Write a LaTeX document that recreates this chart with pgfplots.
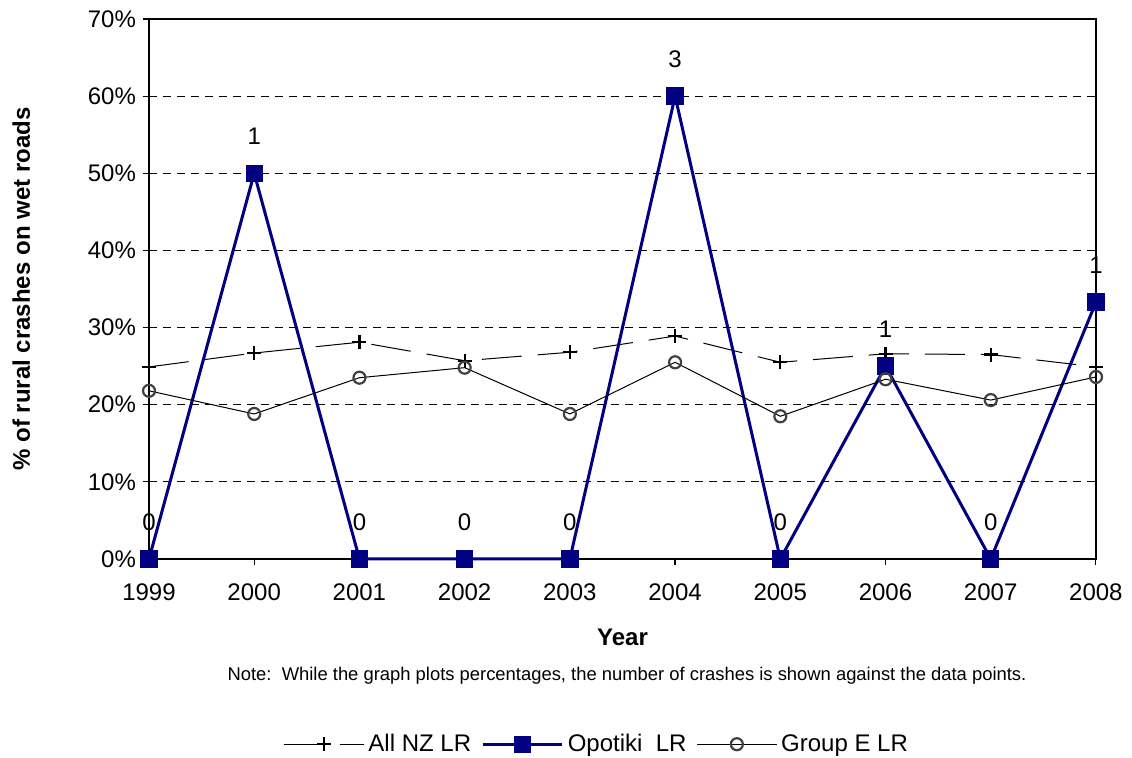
\documentclass[border=0pt]{standalone}
\usepackage{fontspec}
\setmainfont{Liberation Sans}
\usepackage{pgfplots}
\pgfplotsset{compat=1.18}
\definecolor{navy}{RGB}{0,0,128}
\definecolor{circgray}{RGB}{64,64,64}
\begin{document}
\begin{tikzpicture}
\useasboundingbox (-74.5pt,-99.5pt) rectangle (491.5pt,279.5pt);
\begin{axis}[
  name=main,
  at={(0,0)}, anchor=south west,
  scale only axis,
  width=473.5pt, height=270pt,
  xmin=1999, xmax=2008, ymin=0, ymax=70,
  xtick={1999,...,2008},
  ytick={0,10,...,70},
  /pgf/number format/assume math mode=true,
  xticklabel style={/pgf/number format/1000 sep={}, font=\fontsize{12}{14}\selectfont, yshift=-6pt},
  yticklabel={\pgfmathprintnumber{\tick}\%},
  yticklabel style={font=\fontsize{12}{14}\selectfont},
  tick align=outside, tick pos=left,
  major tick length=3pt,
  ymajorgrids,
  grid style={black, dash pattern=on 4pt off 3pt, line width=0.5pt},
  axis line style={line width=0.7pt},
  tick style={black, line width=0.6pt},
  xlabel={\textbf{Year}},
  xlabel style={font=\fontsize{12}{14}\selectfont, yshift=-7pt},
  ylabel={\textbf{\% of rural crashes on wet roads}},
  ylabel style={font=\fontsize{12}{14}\selectfont, yshift=22pt},
  legend style={at={(0.474,-0.343)}, anchor=center, draw=none, font=\fontsize{12}{14}\selectfont, legend columns=-1, /tikz/every even column/.append style={column sep=3pt}},
  legend image code/.code={
    \draw[mark repeat=2,mark phase=2] plot coordinates {(0cm,0cm) (0.7cm,0cm) (1.4cm,0cm)};
  },
  clip=false,
]
\addplot[black, line width=0.5pt, dash pattern=on 20pt off 8pt, mark=+, mark size=3.5pt, mark options={solid, line width=1.1pt}]
 coordinates {(1999,24.9) (2000,26.7) (2001,28.1) (2002,25.7) (2003,26.8) (2004,28.9) (2005,25.5) (2006,26.6) (2007,26.5) (2008,24.9)};
\addlegendentry{All NZ LR}
\addplot[navy, line width=1.5pt, mark=square*, mark size=3.6pt, mark options={solid, fill=navy},
  nodes near coords, point meta=explicit symbolic,
  every node near coord/.style={anchor=center, yshift=18.5pt, black, font=\fontsize{12}{14}\selectfont}]
 coordinates {(1999,0)[0] (2000,50)[1] (2001,0)[0] (2002,0)[0] (2003,0)[0] (2004,60)[3] (2005,0)[0] (2006,25)[1] (2007,0)[0] (2008,33.3)[1]};
\addlegendentry{Opotiki\ \ LR}
\addplot[black, line width=0.5pt, mark=o, mark size=3pt, mark options={draw=circgray, line width=1.1pt}]
 coordinates {(1999,21.8) (2000,18.8) (2001,23.5) (2002,24.8) (2003,18.8) (2004,25.5) (2005,18.5) (2006,23.3) (2007,20.6) (2008,23.6)};
\addlegendentry{Group E LR}
\end{axis}
\node[font=\fontsize{9.2}{11}\selectfont] at (239pt,-58.5pt) {Note:\ \ While the graph plots percentages, the number of crashes is shown against the data points.};
\end{tikzpicture}
\end{document}
